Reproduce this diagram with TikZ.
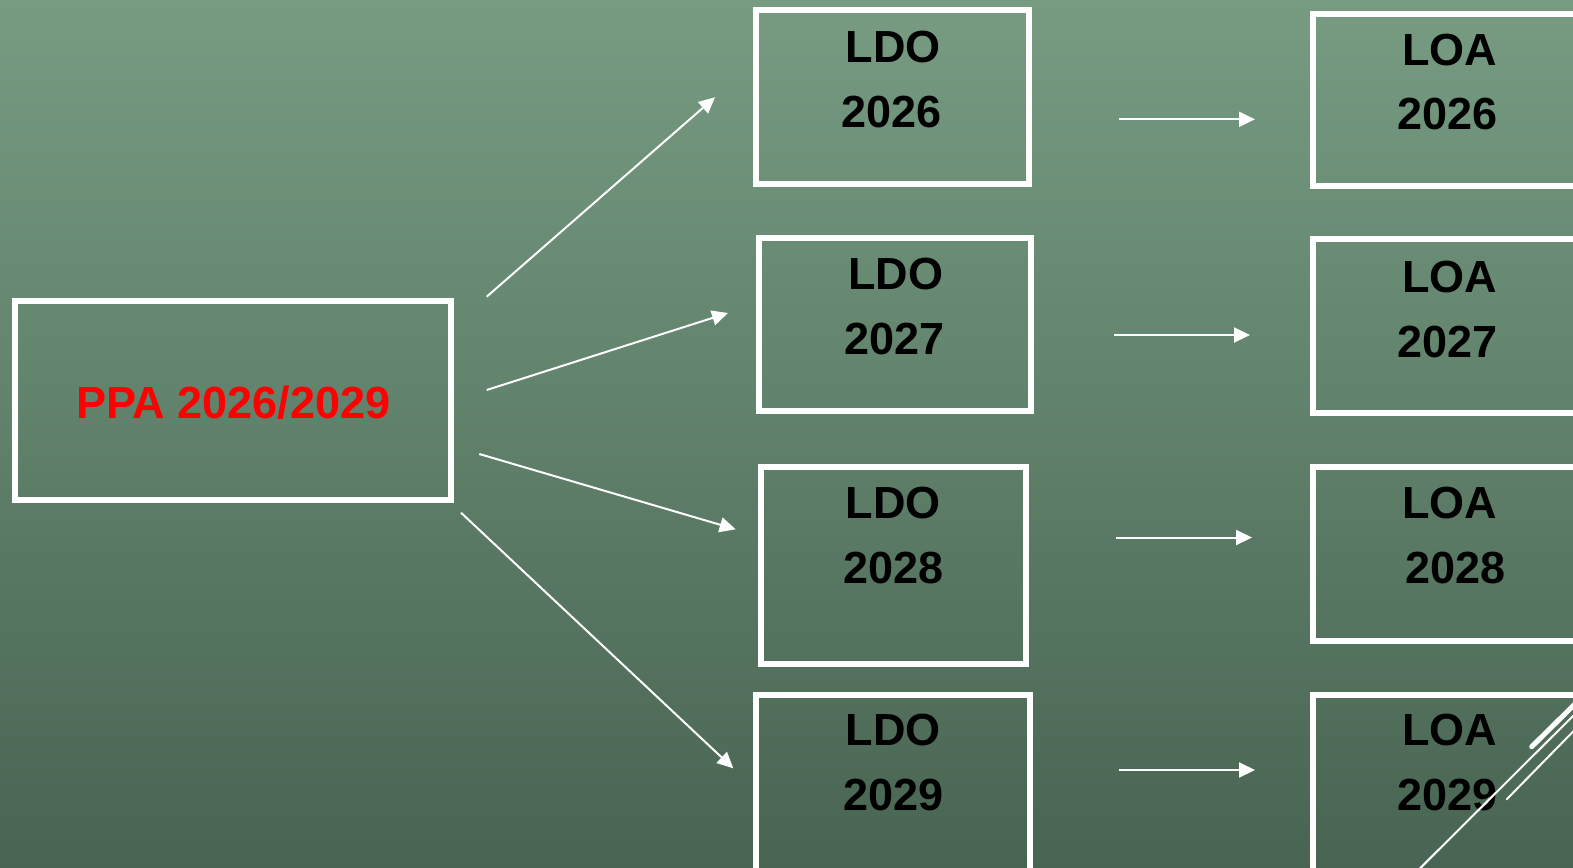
\documentclass[tikz,border=0pt]{standalone}
\usepackage{fontspec}
\setmainfont{Liberation Sans}
\usetikzlibrary{arrows.meta}
\definecolor{bgtop}{RGB}{119,156,130}
\definecolor{bgbot}{RGB}{72,100,82}
\definecolor{ppared}{RGB}{255,0,0}
\tikzset{
  box/.style={draw=white, line width=6bp, rectangle, inner sep=0pt, outer sep=0pt},
  lbl/.style={anchor=base, inner sep=0pt, font=\fontsize{45bp}{54bp}\selectfont\bfseries, text=black},
  conn/.style={draw=white, line width=2bp, -{Triangle[length=16bp,width=15bp]}},
  deco/.style={draw=white, line cap=round}
}
\begin{document}
\begin{tikzpicture}[x=1bp,y=-1bp]
\useasboundingbox (0,0) rectangle (1573,867);
\clip (0,0) rectangle (1573,867);
\shade[top color=bgtop, bottom color=bgbot] (0,0) rectangle (1573,867);
% boxes
\node[box, minimum width=436.6bp, minimum height=199bp] (ppa) at (233,400.8) {};
\node[box, minimum width=273bp, minimum height=173.7bp] (ldo1) at (892.5,97.2) {};
\node[box, minimum width=272.3bp, minimum height=173.8bp] (ldo2) at (895.2,324.4) {};
\node[box, minimum width=265bp, minimum height=196.7bp] (ldo3) at (893.8,565.3) {};
\node[box, minimum width=273.4bp, minimum height=190bp] (ldo4) at (893,789.5) {};
\node[box, minimum width=280bp, minimum height=172.6bp] (loa1) at (1452.5,100) {};
\node[box, minimum width=280bp, minimum height=173.5bp] (loa2) at (1452.5,326.2) {};
\node[box, minimum width=280bp, minimum height=174bp] (loa3) at (1452.5,554) {};
\node[box, minimum width=280bp, minimum height=190bp] (loa4) at (1452.5,789.5) {};
% labels
\node[lbl, text=ppared] (tppa) at (233.3,418.3) {PPA 2026/2029};
\node[lbl] (t1a) at (893.3,62.3) {LDO};
\node[lbl] (t1b) at (891.7,127.7) {2026};
\node[lbl] (t2a) at (895.5,289) {LDO};
\node[lbl] (t2b) at (894.7,354.3) {2027};
\node[lbl] (t3a) at (893.3,518.3) {LDO};
\node[lbl] (t3b) at (893.3,583.3) {2028};
\node[lbl] (t4a) at (893.3,745) {LDO};
\node[lbl] (t4b) at (893.3,810) {2029};
\node[lbl] (u1a) at (1449.7,65) {LOA};
\node[lbl] (u1b) at (1447.8,129.3) {2026};
\node[lbl] (u2a) at (1449.7,292) {LOA};
\node[lbl] (u2b) at (1447.8,357) {2027};
\node[lbl] (u3a) at (1449.7,518) {LOA};
\node[lbl] (u3b) at (1455.5,583.5) {2028};
\node[lbl] (u4a) at (1449.7,745) {LOA};
\node[lbl] (u4b) at (1447.8,810) {2029};
% connector end points
\coordinate (p1) at (486.7,296.7); \coordinate (q1) at (715,97.3);
\coordinate (p2) at (486.7,390);   \coordinate (q2) at (728,313);
\coordinate (p3) at (479.3,454);   \coordinate (q3) at (735.7,529.3);
\coordinate (p4) at (461,512.7);   \coordinate (q4) at (733.3,768.3);
\coordinate (r1) at (1119.3,119.3); \coordinate (s1) at (1255,119.3);
\coordinate (r2) at (1114.3,335);   \coordinate (s2) at (1250,335);
\coordinate (r3) at (1116.3,537.5); \coordinate (s3) at (1252,537.5);
\coordinate (r4) at (1119.3,770);   \coordinate (s4) at (1255,770);
\draw[conn] (p1) -- (q1);
\draw[conn] (p2) -- (q2);
\draw[conn] (p3) -- (q3);
\draw[conn] (p4) -- (q4);
\draw[conn] (r1) -- (s1);
\draw[conn] (r2) -- (s2);
\draw[conn] (r3) -- (s3);
\draw[conn] (r4) -- (s4);
% decorative corner lines
\coordinate (d1a) at (1531.7,746.7); \coordinate (d1b) at (1580,699);
\coordinate (d2a) at (1420,868.3); \coordinate (d2b) at (1580,709);
\coordinate (d3a) at (1506.7,799.3); \coordinate (d3b) at (1580,724.5);
\draw[deco, line width=5bp] (d1a) -- (d1b);
\draw[deco, line width=2bp] (d2a) -- (d2b);
\draw[deco, line width=2bp] (d3a) -- (d3b);
\end{tikzpicture}
\end{document}
